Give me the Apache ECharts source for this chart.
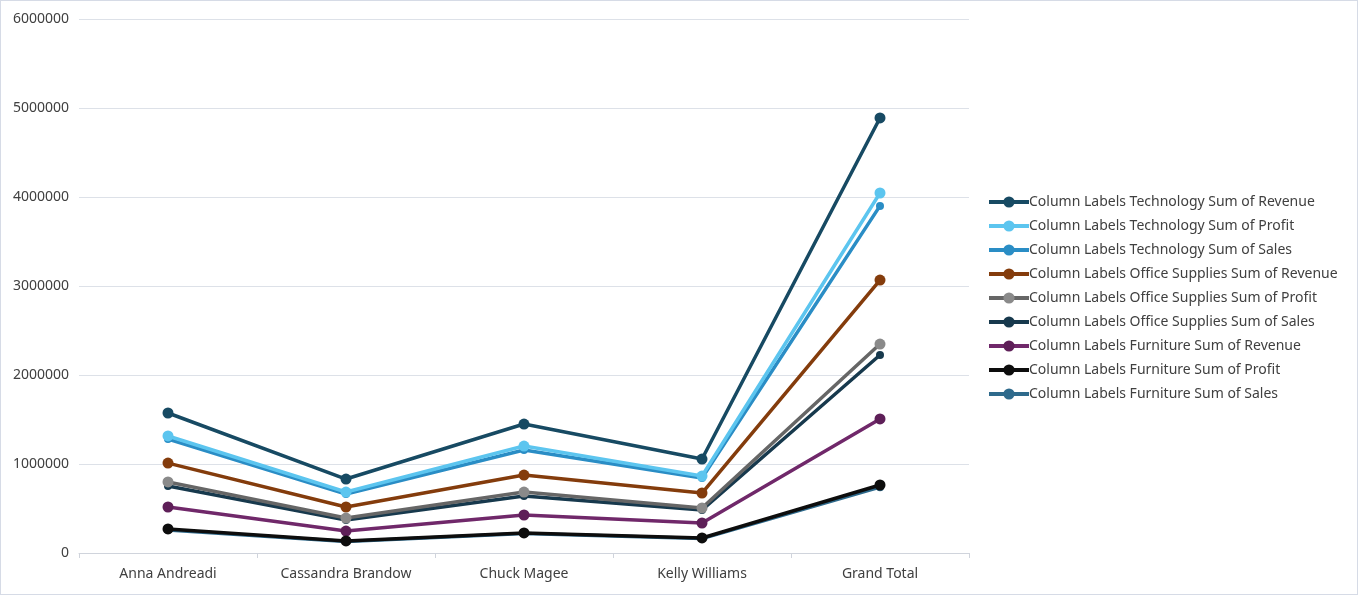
<!DOCTYPE html>
<html>
<head>
<meta charset="utf-8">
<script src="https://cdn.jsdelivr.net/npm/echarts@6/dist/echarts.min.js"></script>
<style>
  html, body { margin: 0; padding: 0; background: #fff; }
  #chart { width: 1356px; height: 593px; border: 1px solid #d6dbe6; }
</style>
</head>
<body>
<div id="chart"></div>
<script>
var categories = ['Anna Andreadi', 'Cassandra Brandow', 'Chuck Magee', 'Kelly Williams', 'Grand Total'];

var techRevenue = [1573000, 831000, 1449000, 1056000, 4888000];
var techProfit = [1315000, 685000, 1202000, 865000, 4045000];
var techSales = [1280000, 662000, 1157000, 843000, 3900000];
var officeRevenue = [1010000, 517000, 876000, 674000, 3067000];
var officeProfit = [798000, 393000, 685000, 506000, 2348000];
var officeSales = [753000, 370000, 640000, 483000, 2225000];
var furnRevenue = [517000, 247000, 427000, 337000, 1506000];
var furnProfit = [270000, 135000, 225000, 169000, 764000];
var furnSales = [258000, 130000, 218000, 162000, 740000];

// sales lines sit underneath, the profit line covers them
var seriesDefs = [
  { name: 'Column Labels Technology Sum of Revenue', data: techRevenue, color: '#174a63', size: 11, z: 3 },
  { name: 'Column Labels Technology Sum of Profit', data: techProfit, color: '#5cc5ef', size: 11, z: 3 },
  { name: 'Column Labels Technology Sum of Sales', data: techSales, color: '#2a8dc5', size: 8, z: 2 },
  { name: 'Column Labels Office Supplies Sum of Revenue', data: officeRevenue, color: '#843c0c', size: 11, z: 3 },
  { name: 'Column Labels Office Supplies Sum of Profit', data: officeProfit, color: '#666666', marker: '#8a8a8a', size: 11, z: 3 },
  { name: 'Column Labels Office Supplies Sum of Sales', data: officeSales, color: '#17394d', size: 8, z: 2 },
  { name: 'Column Labels Furniture Sum of Revenue', data: furnRevenue, color: '#70286a', marker: '#5e1f58', size: 11, z: 3 },
  { name: 'Column Labels Furniture Sum of Profit', data: furnProfit, color: '#0d0d0d', size: 11, z: 3 },
  { name: 'Column Labels Furniture Sum of Sales', data: furnSales, color: '#2e6a8c', size: 8, z: 2 }
];

var chart = echarts.init(document.getElementById('chart'));

var option = {
  animation: false,
  textStyle: { fontFamily: 'Noto Sans' },
  grid: { left: 78, right: 388, top: 18, bottom: 41 },
  legend: {
    orient: 'vertical',
    left: 981,
    top: 189,
    itemWidth: 40,
    itemHeight: 14,
    itemGap: 10,
    lineStyle: { width: 4 },
    textStyle: { fontSize: 14, lineHeight: 14, color: '#404040', padding: [0, 0, 0, -5] },
    data: seriesDefs.map(function (s) { return s.name; })
  },
  xAxis: {
    type: 'category',
    data: categories,
    boundaryGap: true,
    axisLine: { lineStyle: { color: '#d0d4dc' } },
    axisTick: { show: true, length: 5, lineStyle: { color: '#d0d4dc' } },
    axisLabel: { color: '#404040', fontSize: 14, margin: 14 }
  },
  yAxis: {
    type: 'value',
    min: 0,
    max: 6000000,
    interval: 1000000,
    axisLine: { show: false },
    axisTick: { show: false },
    splitLine: { lineStyle: { color: '#dde1e8' } },
    axisLabel: {
      color: '#404040',
      fontSize: 14,
      margin: 10,
      formatter: function (v) { return String(v); }
    }
  },
  series: seriesDefs.map(function (s) {
    return {
      name: s.name,
      type: 'line',
      data: s.data,
      z: s.z,
      symbol: 'circle',
      symbolSize: s.size,
      lineStyle: { color: s.color, width: 3.5 },
      itemStyle: { color: s.marker || s.color },
      emphasis: { disabled: true }
    };
  })
};

chart.setOption(option);
</script>
</body>
</html>
